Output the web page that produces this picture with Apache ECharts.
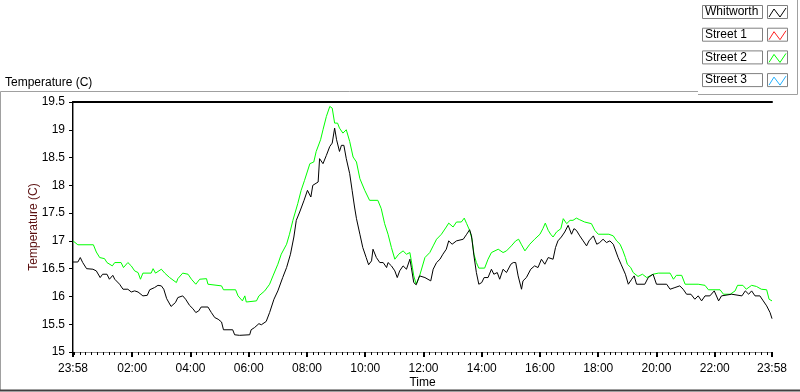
<!DOCTYPE html>
<html>
<head>
<meta charset="utf-8">
<script src="https://cdn.jsdelivr.net/npm/echarts@6/dist/echarts.min.js"></script>
<style>
  html, body { margin: 0; padding: 0; background: #fff; }
  #chart { width: 800px; height: 392px; }
</style>
</head>
<body>
<div id="chart"></div>
<script>
// minutes elapsed since 23:58 (start of the 24 h window)
const whitworthMin = [0, 10, 15, 20, 28, 41, 48, 56, 61, 70, 75, 82, 86, 96, 103, 113, 120, 127, 134, 137, 144, 153, 158, 168, 175, 182, 187, 193, 202, 211, 216, 226, 232, 240, 247, 253, 259, 264, 278, 285, 292, 299, 306, 310, 329, 333, 343, 364, 367, 374, 383, 388, 398, 405, 414, 422, 432, 440, 448, 455, 460, 467, 476, 483, 490, 494, 505, 508, 515, 522, 529, 534, 539, 543, 549, 553, 558, 563, 570, 575, 580, 584, 591, 597, 604, 609, 615, 618, 625, 632, 639, 646, 649, 656, 663, 668, 673, 680, 687, 694, 697, 702, 707, 714, 725, 737, 742, 749, 756, 762, 769, 774, 781, 790, 804, 811, 817, 821, 826, 831, 836, 842, 847, 855, 862, 867, 874, 879, 886, 893, 902, 907, 912, 917, 924, 927, 934, 943, 951, 958, 965, 972, 979, 989, 994, 999, 1006, 1013, 1020, 1024, 1027, 1032, 1037, 1044, 1051, 1058, 1063, 1072, 1079, 1085, 1092, 1099, 1106, 1113, 1116, 1123, 1129, 1133, 1138, 1144, 1151, 1156, 1161, 1178, 1185, 1195, 1202, 1223, 1230, 1240, 1250, 1257, 1264, 1273, 1281, 1288, 1295, 1302, 1312, 1321, 1330, 1336, 1357, 1378, 1385, 1392, 1398, 1405, 1415, 1422, 1429, 1436, 1440];
const whitworthTemp = [16.62, 16.62, 16.70, 16.61, 16.50, 16.49, 16.46, 16.34, 16.40, 16.40, 16.31, 16.38, 16.31, 16.22, 16.13, 16.13, 16.08, 16.10, 16.08, 16.06, 16.01, 16.02, 16.12, 16.16, 16.20, 16.19, 16.13, 15.96, 15.82, 15.89, 15.98, 16.01, 15.95, 15.84, 15.78, 15.71, 15.74, 15.81, 15.81, 15.71, 15.62, 15.59, 15.54, 15.40, 15.40, 15.31, 15.30, 15.31, 15.40, 15.44, 15.51, 15.49, 15.55, 15.71, 15.95, 16.10, 16.34, 16.52, 16.76, 17.07, 17.37, 17.52, 17.73, 17.91, 17.79, 18.00, 18.06, 18.48, 18.39, 18.54, 18.70, 18.76, 19.03, 18.82, 18.61, 18.72, 18.72, 18.48, 18.21, 17.91, 17.61, 17.40, 17.12, 16.88, 16.70, 16.57, 16.64, 16.85, 16.70, 16.61, 16.61, 16.52, 16.61, 16.55, 16.46, 16.34, 16.46, 16.55, 16.49, 16.67, 16.52, 16.25, 16.21, 16.37, 16.34, 16.28, 16.49, 16.61, 16.67, 16.76, 16.85, 17.00, 16.94, 17.00, 17.03, 17.12, 17.20, 17.09, 16.73, 16.43, 16.22, 16.25, 16.34, 16.34, 16.49, 16.40, 16.43, 16.31, 16.49, 16.43, 16.58, 16.61, 16.61, 16.37, 16.13, 16.28, 16.34, 16.49, 16.55, 16.52, 16.67, 16.58, 16.70, 16.67, 16.88, 17.00, 17.07, 17.16, 17.28, 17.31, 17.12, 17.22, 17.19, 17.09, 17.00, 16.91, 17.00, 17.09, 16.94, 16.97, 17.03, 16.97, 17.00, 16.94, 16.91, 16.70, 16.58, 16.55, 16.40, 16.22, 16.31, 16.37, 16.22, 16.22, 16.34, 16.40, 16.22, 16.22, 16.13, 16.16, 16.19, 16.13, 16.04, 16.04, 15.95, 16.01, 15.92, 16.01, 16.01, 16.10, 15.92, 16.01, 16.04, 16.01, 16.10, 16.04, 16.10, 16.01, 16.01, 15.92, 15.83, 15.71, 15.60];

const street2Min = [0, 10, 42, 48, 55, 65, 70, 81, 86, 99, 104, 113, 120, 127, 134, 139, 144, 161, 165, 170, 182, 189, 199, 213, 216, 226, 237, 244, 253, 261, 275, 278, 306, 310, 335, 340, 349, 354, 357, 378, 383, 395, 405, 412, 422, 429, 440, 446, 453, 463, 470, 477, 488, 496, 501, 510, 515, 522, 529, 534, 539, 545, 549, 556, 563, 570, 577, 584, 591, 601, 611, 628, 635, 642, 649, 656, 663, 671, 680, 687, 694, 697, 702, 707, 714, 725, 735, 742, 749, 759, 769, 774, 783, 790, 800, 806, 811, 817, 822, 826, 831, 836, 848, 855, 862, 876, 886, 893, 903, 912, 918, 924, 931, 941, 951, 962, 968, 973, 979, 984, 989, 996, 1005, 1010, 1017, 1024, 1030, 1037, 1044, 1054, 1068, 1075, 1082, 1104, 1113, 1120, 1127, 1133, 1138, 1142, 1149, 1154, 1164, 1173, 1182, 1195, 1206, 1230, 1237, 1243, 1254, 1261, 1288, 1302, 1309, 1333, 1340, 1354, 1364, 1369, 1380, 1387, 1398, 1408, 1418, 1429, 1434, 1440];
const street2Temp = [17.00, 16.93, 16.93, 16.80, 16.70, 16.68, 16.61, 16.55, 16.61, 16.61, 16.52, 16.61, 16.55, 16.46, 16.43, 16.31, 16.42, 16.42, 16.50, 16.42, 16.49, 16.42, 16.34, 16.25, 16.32, 16.42, 16.40, 16.31, 16.22, 16.31, 16.32, 16.22, 16.19, 16.12, 16.12, 16.01, 15.92, 16.01, 15.90, 15.92, 16.01, 16.10, 16.22, 16.37, 16.58, 16.76, 16.94, 17.12, 17.37, 17.67, 17.91, 18.09, 18.39, 18.42, 18.61, 18.82, 19.00, 19.24, 19.42, 19.39, 19.12, 19.12, 19.03, 18.94, 19.00, 18.79, 18.51, 18.42, 18.12, 17.91, 17.73, 17.73, 17.58, 17.31, 17.12, 16.88, 16.67, 16.76, 16.82, 16.76, 16.79, 16.64, 16.37, 16.22, 16.37, 16.70, 16.79, 16.91, 17.03, 17.12, 17.25, 17.32, 17.25, 17.34, 17.34, 17.41, 17.31, 17.19, 17.03, 16.76, 16.61, 16.51, 16.51, 16.67, 16.79, 16.85, 16.79, 16.82, 16.91, 17.00, 17.03, 16.93, 16.82, 16.94, 17.03, 17.12, 17.22, 17.32, 17.19, 17.12, 17.07, 17.16, 17.22, 17.40, 17.31, 17.37, 17.37, 17.41, 17.38, 17.34, 17.31, 17.19, 17.12, 17.12, 17.09, 17.00, 16.94, 16.82, 16.70, 16.58, 16.52, 16.43, 16.36, 16.40, 16.34, 16.40, 16.42, 16.42, 16.31, 16.38, 16.38, 16.22, 16.22, 16.20, 16.12, 16.12, 16.04, 16.04, 16.10, 16.20, 16.20, 16.13, 16.20, 16.18, 16.13, 16.12, 15.95, 15.92];

const street1Min = [];
const street1Temp = [];
const street3Min = [];
const street3Temp = [];

const seriesNames = ['Whitworth', 'Street 1', 'Street 2', 'Street 3'];
const seriesColors = ['#000000', '#ff2020', '#00ff00', '#20b0ff'];

// x label positions (minutes since 23:58): 23:58, 02:00, 04:00 ... 22:00, 23:58
const xLabelMin = [0, 122, 242, 362, 482, 602, 722, 842, 962, 1082, 1202, 1322, 1440];

const minorTickMin = [];
for (let m = 2; m < 1440; m += 12) minorTickMin.push(m);

function clock(v) {
  const t = (1438 + Math.round(v)) % 1440;
  const h = Math.floor(t / 60), mi = t % 60;
  return String(h).padStart(2, '0') + ':' + String(mi).padStart(2, '0');
}

function pairs(xs, ys) {
  return xs.map((x, i) => [x, ys[i]]);
}

const FONT = '"Liberation Sans", Arial, sans-serif';
const chart = echarts.init(document.getElementById('chart'), null, { renderer: 'canvas' });

// legend boxes (LabVIEW style) built from series names/colours
const legendGraphics = [];
seriesNames.forEach((name, i) => {
  const y = 5 + i * 22.7;
  legendGraphics.push({
    type: 'rect', shape: { x: 702.5, y: y + 0.5, width: 60, height: 13 },
    style: { fill: '#fff', stroke: '#808080', lineWidth: 1 }
  });
  legendGraphics.push({
    type: 'text', left: 705, top: y + 1,
    style: { text: name, font: '12px ' + FONT, fill: '#000' }
  });
  legendGraphics.push({
    type: 'rect', shape: { x: 767.5, y: y + 0.5, width: 20, height: 13 },
    style: { fill: '#fff', stroke: '#808080', lineWidth: 1 }
  });
  legendGraphics.push({
    type: 'polyline', shape: { points: [[769, y + 12], [774, y + 4], [780, y + 12], [786, y + 3]] },
    style: { stroke: seriesColors[i], lineWidth: 1, fill: null }
  });
});

const option = {
  backgroundColor: '#fff',
  animation: false,
  title: {
    text: 'Temperature (C)', left: 0, top: 72,
    textStyle: { fontFamily: FONT, fontSize: 12, fontWeight: 'normal', color: '#000' }
  },
  grid: { left: 73, right: 28, top: 102, bottom: 40, outerBoundsMode: 'none', containLabel: false },
  xAxis: [
    {
      type: 'value', min: 0, max: 1440, position: 'bottom',
      name: 'Time', nameLocation: 'middle', nameGap: 25, nameMoveOverlap: false,
      nameTextStyle: { fontFamily: FONT, fontSize: 12, color: '#000' },
      axisLine: { show: true, lineStyle: { color: '#8c8c8c', width: 1 } },
      axisTick: { show: true, customValues: xLabelMin, length: 5, lineStyle: { color: '#000', width: 2 } },
      axisLabel: { customValues: xLabelMin, formatter: clock, color: '#000', fontFamily: FONT, fontSize: 12, margin: 11, showMinLabel: true, showMaxLabel: true },
      splitLine: { show: false }
    },
    {
      type: 'value', min: 0, max: 1440, position: 'bottom',
      axisLine: { show: false },
      axisTick: { show: true, customValues: minorTickMin, length: 3, lineStyle: { color: '#000', width: 1 } },
      axisLabel: { show: false },
      splitLine: { show: false }
    },
    {
      type: 'value', min: 0, max: 1440, position: 'top',
      axisLine: { show: true, lineStyle: { color: '#000', width: 2 } },
      axisTick: { show: false }, axisLabel: { show: false }, splitLine: { show: false }
    }
  ],
  yAxis: [
    {
      type: 'value', min: 15, max: 19.5, interval: 0.5, position: 'left',
      name: 'Temperature (C)', nameLocation: 'middle', nameGap: 33, nameMoveOverlap: false,
      nameTextStyle: { fontFamily: FONT, fontSize: 12, color: '#5a0f0f' },
      axisLine: { show: true, lineStyle: { color: '#000', width: 2 } },
      axisTick: { show: true, length: 4, lineStyle: { color: '#000' } },
      axisLabel: { color: '#000', fontFamily: FONT, fontSize: 12, margin: 8,
        formatter: v => String(v) },
      splitLine: { show: false }
    },
    {
      type: 'value', min: 15, max: 19.5, position: 'right',
      axisLine: { show: true, lineStyle: { color: '#8c8c8c', width: 1 } },
      axisTick: { show: false }, axisLabel: { show: false }, splitLine: { show: false }
    }
  ],
  series: [
    { name: seriesNames[0], type: 'line', data: pairs(whitworthMin, whitworthTemp), showSymbol: false, lineStyle: { color: seriesColors[0], width: 1 }, z: 3 },
    { name: seriesNames[1], type: 'line', data: pairs(street1Min, street1Temp), showSymbol: false, lineStyle: { color: seriesColors[1], width: 1 } },
    { name: seriesNames[2], type: 'line', data: pairs(street2Min, street2Temp), showSymbol: false, lineStyle: { color: seriesColors[2], width: 1 }, z: 2 },
    { name: seriesNames[3], type: 'line', data: pairs(street3Min, street3Temp), showSymbol: false, lineStyle: { color: seriesColors[3], width: 1 } }
  ],
  graphic: [
    // outer frame of the graph panel
    { type: 'polyline', shape: { points: [[0.5, 391], [0.5, 91.5], [698, 91.5]] }, style: { stroke: '#a0a0a0', lineWidth: 1, fill: null } },
    { type: 'line', shape: { x1: 0, y1: 390.5, x2: 800, y2: 390.5 }, style: { stroke: '#404040', lineWidth: 2 } },
    // legend panel border
    { type: 'polyline', shape: { points: [[698, 94.5], [797.5, 94.5], [797.5, 0]] }, style: { stroke: '#a0a0a0', lineWidth: 1, fill: null } },
    ...legendGraphics
  ]
};

chart.setOption(option);
</script>
</body>
</html>
